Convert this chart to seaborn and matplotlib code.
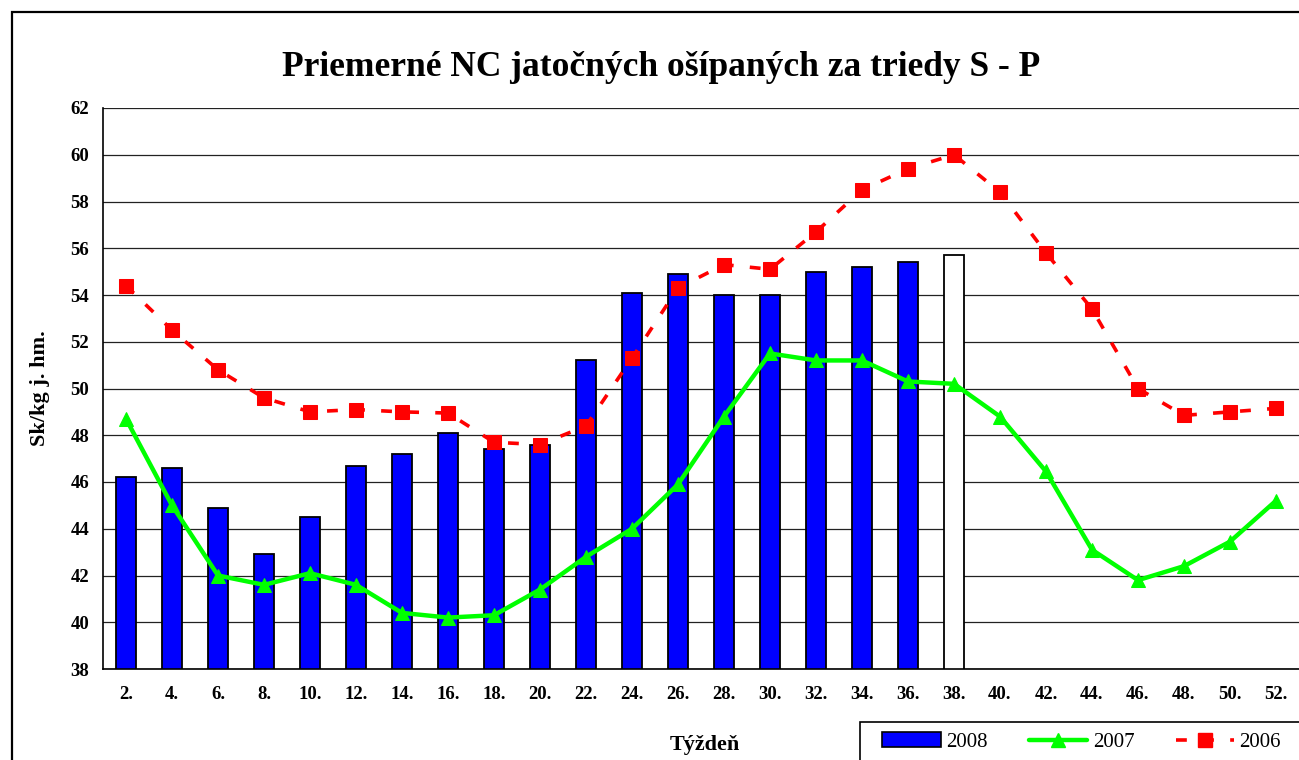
import numpy as np
import pandas as pd
import matplotlib
matplotlib.use("Agg")
import matplotlib.pyplot as plt
import seaborn as sns
from matplotlib.patches import Rectangle, Patch
from matplotlib.lines import Line2D

weeks = ["2.", "4.", "6.", "8.", "10.", "12.", "14.", "16.", "18.", "20.", "22.", "24.", "26.",
         "28.", "30.", "32.", "34.", "36.", "38.", "40.", "42.", "44.", "46.", "48.", "50.", "52."]
y2008 = [46.2, 46.6, 44.9, 42.9, 44.5, 46.7, 47.2, 48.1, 47.4, 47.6, 51.2, 54.1, 54.9,
         54.0, 54.0, 55.0, 55.2, 55.4, 55.7]
y2007 = [48.7, 45.0, 42.0, 41.6, 42.1, 41.6, 40.4, 40.2, 40.3, 41.4, 42.8, 44.0, 45.9,
         48.8, 51.5, 51.2, 51.2, 50.3, 50.2, 48.8, 46.45, 43.1, 41.8, 42.4, 43.45, 45.2]
y2006 = [54.4, 52.5, 50.8, 49.6, 49.0, 49.1, 49.0, 48.95, 47.7, 47.6, 48.4, 51.3, 54.3,
         55.3, 55.1, 56.7, 58.5, 59.4, 60.0, 58.4, 55.8, 53.4, 50.0, 48.85, 49.0, 49.15]

sns.set_style("white")
plt.rcParams['font.family'] = ['Liberation Serif', 'DejaVu Serif']
plt.rcParams['text.color'] = 'black'
plt.rcParams['xtick.color'] = 'black'
plt.rcParams['ytick.color'] = 'black'

fig = plt.figure(figsize=(12.99, 7.60), dpi=100)
ax = fig.add_axes([103/1299, 91/760, 1 - 103/1299, 561/760])

bars = pd.DataFrame({"week": weeks[:len(y2008)], "val": y2008})
lines = pd.DataFrame({"pos": np.arange(len(weeks)), "y2007": y2007, "y2006": y2006})

# horizontal grid
for v in range(38, 63, 2):
    ax.axhline(v, color="#222222", lw=0.9, zorder=0)

sns.barplot(data=bars, x="week", y="val", order=weeks, color="#0000FF", width=0.42,
            edgecolor="black", linewidth=1.3, saturation=1, ax=ax, zorder=2)
ax.patches[len(y2008) - 1].set_facecolor("white")

sns.lineplot(data=lines, x="pos", y="y2007", color="#00FF00", lw=3.2, marker="^",
             markersize=10, markeredgecolor="#00FF00", ax=ax, zorder=3)
sns.lineplot(data=lines, x="pos", y="y2006", color="#FF0000", lw=2.6, marker="s",
             markersize=10, markeredgecolor="#FF0000", ax=ax, zorder=4)
ax.lines[-1].set_dashes([3, 4.5])

ax.set_xlim(-0.5, len(weeks) - 0.5)
ax.set_ylim(38, 62)
ax.set_yticks(range(38, 63, 2))
ax.set_xticks(np.arange(len(weeks)))
ax.set_xticklabels(weeks)
ax.set_xticks(np.arange(-0.5, len(weeks)), minor=True)
ax.tick_params(axis="x", which="major", length=0, pad=12, labelsize=13.5, labelcolor="black")
ax.tick_params(axis="x", which="minor", length=6, direction="out", width=1, color="black")
ax.tick_params(axis="y", length=6, direction="out", width=1, color="black", labelsize=13.5,
               pad=4, labelcolor="black")
for lab in ax.get_xticklabels() + ax.get_yticklabels():
    lab.set_fontweight("bold")

for s in ["top", "right"]:
    ax.spines[s].set_visible(False)
for s in ["left", "bottom"]:
    ax.spines[s].set_color("black")
    ax.spines[s].set_linewidth(1.2)

ax.set_xlabel("")
ax.set_ylabel("")
fig.text(40/1299, 1 - 388/760, "Sk/kg j. hm.", rotation=90, ha="center", va="center",
         fontsize=16, fontweight="bold", color="black")
fig.text(705/1299, 1 - 745/760, "Týždeň", ha="center", va="center", fontsize=16,
         fontweight="bold", color="black")
fig.text(661/1299, 1 - 68/760, "Priemerné NC jatočných ošípaných za triedy S - P",
         ha="center", va="center", fontsize=25.5, fontweight="bold", color="black")

# outer chart frame
fig.patches.append(Rectangle((12/1299, -0.1), 1.2, 1 - 12/760 + 0.1, transform=fig.transFigure,
                             fill=False, edgecolor="black", lw=1.6))
# legend frame (runs past the right and bottom edges, as in the original)
fig.patches.append(Rectangle((860/1299, -0.1), 0.5, 0.1 + 1 - 722/760, transform=fig.transFigure,
                             fill=True, facecolor="white", edgecolor="black", lw=1.2, zorder=5))

handles = [Patch(facecolor="#0000FF", edgecolor="black", lw=1.2),
           Line2D([], [], color="#00FF00", lw=3.2, marker="^", markersize=10),
           Line2D([], [], color="#FF0000", lw=2.6, marker="s", markersize=10, dashes=[3, 4.5])]
leg = fig.legend(handles, ["2008", "2007", "2006"], ncol=3, loc="upper left",
                 bbox_to_anchor=(872/1299, 1 - 722/760), frameon=False,
                 fontsize=15, handlelength=2.8, columnspacing=2.0, borderpad=0.5,
                 handletextpad=0.25, borderaxespad=0, labelcolor="black")
leg.set_zorder(6)

fig.savefig("out.png", dpi=100)
